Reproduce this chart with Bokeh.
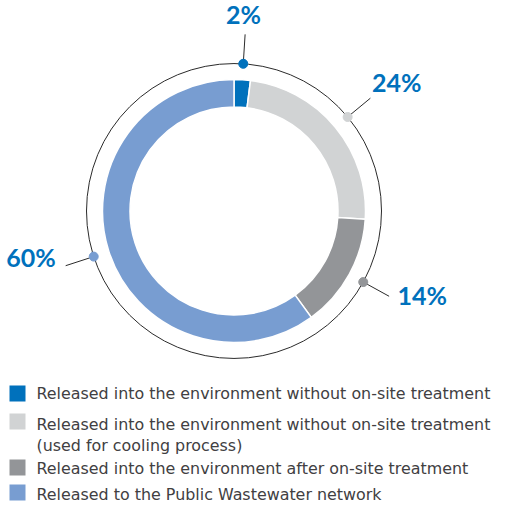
import numpy as np
from bokeh.plotting import figure
from bokeh.models import Range1d
from bokeh.core.properties import value
from bokeh.embed import file_html
from bokeh.resources import INLINE

# ---- data ----
categories = [
    "Released into the environment without on-site treatment",
    "Released into the environment without on-site treatment\n(used for cooling process)",
    "Released into the environment after on-site treatment",
    "Released to the Public Wastewater network",
]
shares = [2, 24, 14, 60]
pct_labels = [f"{v}%" for v in shares]

# ---- styles ----
colors = ["#0071BC", "#D1D3D4", "#939598", "#789DD1"]
label_color = "#0071BC"
legend_text_color = "#414042"

W, H = 493, 507
p = figure(width=W, height=H, output_backend="svg", toolbar_location=None,
           x_range=Range1d(0, W), y_range=Range1d(0, H),
           x_axis_type=None, y_axis_type=None, min_border=0,
           outline_line_color=None)
p.grid.visible = False
p.background_fill_color = "white"
p.border_fill_color = "white"

def Y(y):  # screen row (from top) -> data y
    return H - y

cx, cy = 233.5, Y(210.5)
r_in, r_out, r_ring, r_lead = 104, 131.5, 147.5, 177

frac = np.array(shares, dtype=float) / sum(shares)
cum = np.concatenate([[0], np.cumsum(frac)])
start = np.pi / 2 - 2 * np.pi * cum[:-1]
end = np.pi / 2 - 2 * np.pi * cum[1:]
mid = (start + end) / 2

p.annular_wedge(x=cx, y=cy, inner_radius=r_in, outer_radius=r_out,
                start_angle=start, end_angle=end, direction="clock",
                fill_color=colors, line_color="white", line_width=1.5)

p.circle(x=cx, y=cy, radius=r_ring, fill_color=None, line_color="#2b2b2b", line_width=1)

dx = cx + r_ring * np.cos(mid)
dy = cy + r_ring * np.sin(mid)
ex = cx + r_lead * np.cos(mid)
ey = cy + r_lead * np.sin(mid)
p.segment(x0=dx, y0=dy, x1=ex, y1=ey, line_color="#2b2b2b", line_width=1)
p.scatter(x=dx, y=dy, size=9, fill_color=colors, line_color=colors)

# label placement relative to leader end (screen px, y down)
lab_off = [(-1.5, -20, "center"), (1.5, -16, "left"), (8.5, -1.5, "left"), (-10, -8.5, "right")]
for i, t in enumerate(pct_labels):
    ox, oy, al = lab_off[i]
    p.text(x=[ex[i] + ox], y=[ey[i] - oy], text=[t], text_font=value("Lato"),
           text_font_style="bold", text_font_size="25px", text_color=label_color,
           text_align=al, text_baseline="alphabetic")

# legend
shift = 18          # legend block moved up to fit
tfix = 6            # text baseline correction
sq_centers = [411, 439, 485, 510]
baselines = [[417.3], [448, 468.5], [491.7], [518.3]]
p.rect(x=[17] * 4, y=[Y(v - shift) for v in sq_centers], width=16, height=16,
       fill_color=colors, line_color=None)
for i, cat in enumerate(categories):
    for line, b in zip(cat.split("\n"), baselines[i]):
        p.text(x=[36], y=[Y(b - shift - tfix)], text=[line], text_font=value("DejaVu Sans"),
               text_font_size="15.9px", text_color=legend_text_color,
               text_align="left", text_baseline="alphabetic")

open("out.html", "w").write(file_html(p, INLINE))
